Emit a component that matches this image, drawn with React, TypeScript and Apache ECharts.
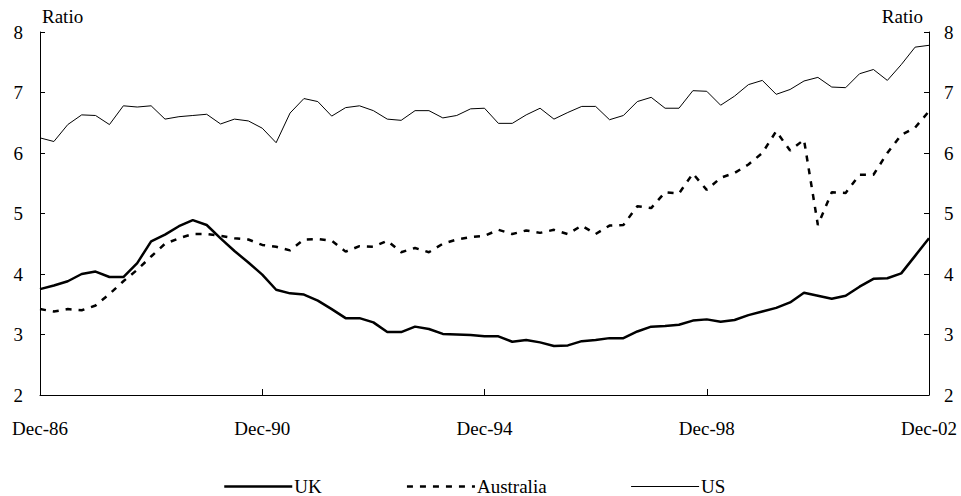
import React, { useEffect, useRef } from "react";
import * as echarts from "echarts";

const tickLabels = ["Dec-86", "Dec-90", "Dec-94", "Dec-98", "Dec-02"];
const startYear = 86;

const ukValues = [
  3.75, 3.81, 3.88, 4.0, 4.04, 3.95, 3.95, 4.18, 4.54, 4.65, 4.79, 4.89, 4.81, 4.59, 4.38, 4.19,
  3.99, 3.74, 3.68, 3.66, 3.56, 3.42, 3.27, 3.27, 3.2, 3.04, 3.04, 3.13, 3.09, 3.01, 3.0, 2.99,
  2.97, 2.97, 2.88, 2.91, 2.87, 2.81, 2.82, 2.89, 2.91, 2.94, 2.94, 3.05, 3.13, 3.14, 3.16, 3.23,
  3.25, 3.21, 3.24, 3.32, 3.38, 3.44, 3.53, 3.69, 3.64, 3.59, 3.64, 3.79, 3.92, 3.93, 4.01, 4.3,
  4.59,
];

const australiaValues = [
  3.42, 3.38, 3.42, 3.4, 3.48, 3.67, 3.88, 4.07, 4.29, 4.5, 4.59, 4.66, 4.66, 4.63, 4.59, 4.57,
  4.48, 4.45, 4.39, 4.57, 4.58, 4.55, 4.37, 4.46, 4.45, 4.55, 4.36, 4.43, 4.36, 4.5, 4.57, 4.61,
  4.63, 4.73, 4.66, 4.72, 4.68, 4.73, 4.66, 4.8, 4.66, 4.8, 4.81, 5.12, 5.09, 5.35, 5.33, 5.66,
  5.39, 5.59, 5.67, 5.81, 6.0, 6.36, 6.04, 6.22, 4.81, 5.35, 5.34, 5.64, 5.64, 6.0, 6.3, 6.42,
  6.69,
];

const usValues = [
  6.25, 6.19, 6.47, 6.63, 6.62, 6.47, 6.78, 6.76, 6.78, 6.56, 6.6, 6.62, 6.64, 6.48, 6.56, 6.53,
  6.41, 6.17, 6.66, 6.9, 6.85, 6.61, 6.75, 6.78, 6.7, 6.56, 6.54, 6.7, 6.7, 6.58, 6.62, 6.73,
  6.74, 6.49, 6.49, 6.63, 6.74, 6.56, 6.67, 6.77, 6.77, 6.55, 6.62, 6.85, 6.92, 6.74, 6.74, 7.03,
  7.02, 6.79, 6.94, 7.13, 7.2, 6.97, 7.05, 7.19, 7.25, 7.09, 7.08, 7.31, 7.38, 7.2, 7.46, 7.75,
  7.78,
];

// quarterly categories Dec-86 ... Dec-02
const categories: string[] = ukValues.map((_, i) => {
  const q = i % 4;
  const yr = startYear + Math.floor(i / 4) + (q === 0 ? 0 : 1);
  const mon = ["Dec", "Mar", "Jun", "Sep"][q];
  return `${mon}-${String(yr % 100).padStart(2, "0")}`;
});

const FONT = "'Liberation Serif', 'Times New Roman', serif";

export default function App() {
  const ref = useRef<HTMLDivElement>(null);
  useEffect(() => {
    if (!ref.current) return;
    const chart = echarts.init(ref.current, null, { renderer: "svg" });
    const yAxisCommon = {
      type: "value",
      min: 2,
      max: 8,
      interval: 1,
      splitLine: { show: false },
      axisLine: { show: true, lineStyle: { color: "#000", width: 1 } },
      axisTick: { show: true, inside: true, length: 5, lineStyle: { color: "#000" } },
      axisLabel: { color: "#000", fontFamily: FONT, fontSize: 19 },
    };
    chart.setOption({
      animation: false,
      backgroundColor: "#fff",
      textStyle: { fontFamily: FONT },
      grid: { left: 40, right: 32, top: 32, bottom: 101, containLabel: false },
      xAxis: {
        type: "category",
        data: categories,
        boundaryGap: false,
        axisLine: { show: true, lineStyle: { color: "#000", width: 1 } },
        axisTick: {
          show: true,
          inside: true,
          length: 6,
          interval: (i: number) => i % 16 === 0,
          lineStyle: { color: "#000" },
        },
        axisLabel: {
          interval: (i: number) => i % 16 === 0,
          formatter: (v: string) => (tickLabels.includes(v) ? v : ""),
          color: "#000",
          fontFamily: FONT,
          fontSize: 19,
          margin: 24,
        },
        splitLine: { show: false },
      },
      yAxis: [
        { ...yAxisCommon, position: "left", axisLabel: { ...yAxisCommon.axisLabel, margin: 17 } },
        { ...yAxisCommon, position: "right", axisLabel: { ...yAxisCommon.axisLabel, margin: 15 } },
      ],
      legend: {
        left: 218,
        top: 472,
        itemWidth: 68,
        itemHeight: 14,
        itemGap: 84,
        itemStyle: { opacity: 0 },
        textStyle: { color: "#000", fontFamily: FONT, fontSize: 19, padding: [0, 0, 0, -3] },
        data: [
          { name: "UK", lineStyle: { width: 2.5, color: "#000" } },
          { name: "Australia", lineStyle: { width: 2.5, color: "#000", type: [6, 7] } },
          { name: "US", lineStyle: { width: 1, color: "#000" } },
        ],
      },
      graphic: [
        {
          type: "text",
          left: 42,
          top: 7,
          style: { text: "Ratio", fill: "#000", font: `19px ${FONT}` },
        },
        {
          type: "text",
          right: 38,
          top: 7,
          style: { text: "Ratio", fill: "#000", font: `19px ${FONT}` },
        },
      ],
      series: [
        {
          name: "UK",
          type: "line",
          data: ukValues,
          symbol: "none",
          lineStyle: { color: "#000", width: 2.5 },
          itemStyle: { color: "#000" },
        },
        {
          name: "Australia",
          type: "line",
          data: australiaValues,
          symbol: "none",
          lineStyle: { color: "#000", width: 2.5, type: [6, 7] },
          itemStyle: { color: "#000" },
        },
        {
          name: "US",
          type: "line",
          data: usValues,
          symbol: "none",
          lineStyle: { color: "#000", width: 1 },
          itemStyle: { color: "#000" },
        },
      ],
    });
    return () => chart.dispose();
  }, []);
  return <div ref={ref} style={{ width: 961, height: 496, position: "absolute", left: 0, top: 0 }} />;
}
